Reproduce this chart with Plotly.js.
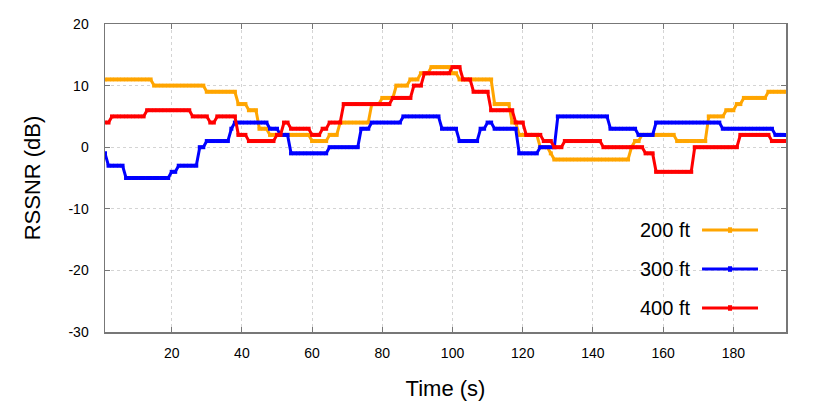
<!DOCTYPE html>
<html>
<head>
<meta charset="utf-8">
<script src="https://cdn.plot.ly/plotly-3.0.1.min.js"></script>
<style>
  body { margin: 0; background: #fff; }
  #chart { width: 830px; height: 410px; }
</style>
</head>
<body>
<div id="chart"></div>
<script>
// RSSNR per second (t = 1..195 s)
var rssnr200 = [
  11, 11, 11, 11, 11, 11, 11, 11, 11, 11,
  11, 11, 11, 11, 10, 10, 10, 10, 10, 10,
  10, 10, 10, 10, 10, 10, 10, 10, 10, 9,
  9, 9, 9, 9, 9, 9, 9, 9, 7, 7,
  7, 6, 6, 6, 3, 3, 3, 2, 2, 2,
  2, 2, 2, 2, 2, 2, 2, 2, 2, 1,
  1, 1, 1, 1, 2, 2, 2, 4, 4, 4,
  4, 4, 4, 4, 4, 4, 7, 7, 7, 8,
  8, 8, 8, 10, 10, 10, 10, 11, 11, 11,
  12, 12, 12, 13, 13, 13, 13, 13, 13, 12,
  12, 11, 11, 11, 11, 11, 11, 11, 11, 11,
  11, 7, 7, 7, 7, 7, 4, 4, 2, 2,
  2, 2, 2, 2, 0, 0, 0, -1, -2, -2,
  -2, -2, -2, -2, -2, -2, -2, -2, -2, -2,
  -2, -2, -2, -2, -2, -2, -2, -2, -2, -2,
  0, 1, 1, 2, 2, 2, 2, 2, 2, 2,
  2, 2, 2, 1, 1, 1, 1, 1, 1, 1,
  1, 1, 5, 5, 5, 5, 5, 6, 6, 6,
  7, 7, 8, 8, 8, 8, 8, 8, 8, 9,
  9, 9, 9, 9, 9
]

var rssnr300 = [
  -1, -3, -3, -3, -3, -3, -5, -5, -5, -5,
  -5, -5, -5, -5, -5, -5, -5, -5, -5, -4,
  -4, -3, -3, -3, -3, -3, -3, 0, 0, 1,
  1, 1, 1, 1, 1, 1, 3, 4, 4, 4,
  4, 4, 4, 4, 4, 4, 4, 3, 3, 3,
  2, 2, 2, -1, -1, -1, -1, -1, -1, -1,
  -1, -1, -1, -1, 0, 0, 0, 0, 0, 0,
  0, 0, 0, 3, 3, 3, 4, 4, 4, 4,
  4, 4, 4, 4, 4, 5, 5, 5, 5, 5,
  5, 5, 5, 5, 5, 5, 3, 3, 3, 3,
  3, 1, 1, 1, 1, 1, 1, 3, 3, 4,
  4, 3, 3, 3, 3, 3, 3, 3, -1, -1,
  -1, -1, -1, -1, 0, 0, 0, 0, 0, 5,
  5, 5, 5, 5, 5, 5, 5, 5, 5, 5,
  5, 5, 5, 5, 3, 3, 3, 3, 3, 3,
  3, 3, 2, 2, 2, 2, 2, 4, 4, 4,
  4, 4, 4, 4, 4, 4, 4, 4, 4, 4,
  4, 4, 4, 4, 4, 4, 3, 3, 3, 3,
  3, 3, 3, 3, 3, 3, 3, 3, 3, 3,
  3, 2, 2, 2, 2
]

var rssnr400 = [
  4, 4, 5, 5, 5, 5, 5, 5, 5, 5,
  5, 5, 6, 6, 6, 6, 6, 6, 6, 6,
  6, 6, 6, 6, 6, 5, 5, 5, 5, 5,
  4, 4, 5, 5, 5, 5, 5, 5, 2, 2,
  2, 1, 1, 1, 1, 1, 1, 1, 1, 2,
  2, 4, 4, 3, 3, 3, 3, 3, 3, 2,
  2, 2, 3, 3, 4, 4, 4, 4, 7, 7,
  7, 7, 7, 7, 7, 7, 7, 7, 7, 7,
  7, 7, 8, 8, 8, 8, 8, 8, 10, 10,
  10, 12, 12, 12, 12, 12, 12, 12, 12, 13,
  13, 13, 11, 11, 11, 9, 9, 9, 9, 9,
  6, 6, 6, 6, 6, 6, 6, 4, 4, 4,
  2, 2, 2, 2, 2, 1, 1, 1, 0, 0,
  0, 1, 1, 1, 1, 1, 1, 1, 1, 1,
  1, 1, 0, 0, 0, 0, 0, 0, 0, 0,
  0, 0, 0, 0, -1, -1, -1, -4, -4, -4,
  -4, -4, -4, -4, -4, -4, -4, -4, 0, 0,
  0, 0, 0, 0, 0, 0, 0, 0, 0, 0,
  0, 2, 2, 2, 2, 2, 2, 2, 2, 2,
  1, 1, 1, 1, 1
]

var seriesNames = ["200 ft", "300 ft", "400 ft"]
var seriesColors = ["#ffa500", "#0000ff", "#ff0000"]
var xTicks = [20, 40, 60, 80, 100, 120, 140, 160, 180]
var yTicks = [-30, -20, -10, 0, 10, 20]
var yTickText = ["-30", "-20", "-10", "0", "10", "20"]

var time = rssnr200.map(function (v, i) { return i + 1 })

var data = [rssnr200, rssnr300, rssnr400].map(function (vals, k) {
  return {
    type: "scatter",
    mode: "lines+markers",
    x: time,
    y: vals,
    name: seriesNames[k],
    line: { color: seriesColors[k], width: 3 },
    marker: { color: seriesColors[k], size: 4, symbol: "square" },
    showlegend: false,
  }
})

// gnuplot-style key: label on the left, sample line on the right
var keyY = [0.331, 0.2045, 0.078]
var shapes = []
var annotations = []
keyY.forEach(function (yy, k) {
  shapes.push({
    type: "line", xref: "paper", yref: "paper",
    x0: 0.8767, x1: 0.9589, y0: yy, y1: yy,
    line: { color: seriesColors[k], width: 3 },
  })
  shapes.push({
    type: "rect", xref: "paper", yref: "paper",
    x0: 0.9148, x1: 0.9208, y0: yy - 0.009, y1: yy + 0.009,
    fillcolor: seriesColors[k], line: { width: 0 },
  })
  annotations.push({
    xref: "paper", yref: "paper", x: 0.862, y: yy,
    xanchor: "right", yanchor: "middle", showarrow: false,
    text: seriesNames[k],
    font: { family: "Liberation Sans, Arial, sans-serif", size: 20, color: "#000" },
  })
})

var layout = {
  width: 830,
  height: 410,
  margin: { l: 105, r: 44, t: 24, b: 78 },
  paper_bgcolor: "#fff",
  plot_bgcolor: "#fff",
  font: { family: "Liberation Sans, Arial, sans-serif", size: 14, color: "#000" },
  xaxis: {
    range: [1, 195],
    tickvals: xTicks,
    ticks: "inside",
    ticklen: 5,
    tickcolor: "#777",
    showline: true,
    linecolor: "#777",
    linewidth: 1.5,
    mirror: "ticks",
    showgrid: true,
    gridcolor: "#d4d4d4",
    griddash: "dot",
    zeroline: false,
    ticklabelstandoff: 8,
    title: { text: "Time (s)", font: { size: 22 }, standoff: 20 },
  },
  yaxis: {
    range: [-30, 20],
    tickvals: yTicks,
    ticktext: yTickText,
    ticks: "inside",
    ticklen: 5,
    tickcolor: "#777",
    showline: true,
    linecolor: "#777",
    linewidth: 1.5,
    mirror: "ticks",
    showgrid: true,
    gridcolor: "#d4d4d4",
    griddash: "dot",
    zeroline: false,
    ticklabelstandoff: 12,
    title: { text: "RSSNR (dB)", font: { size: 22 }, standoff: 22 },
  },
  shapes: shapes,
  annotations: annotations,
}

Plotly.newPlot("chart", data, layout, { staticPlot: true })
</script>
</body>
</html>
